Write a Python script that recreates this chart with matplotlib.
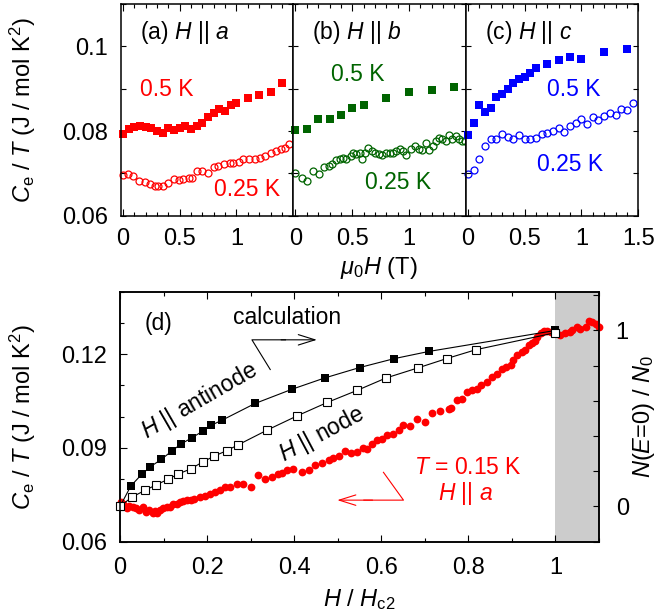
import matplotlib
matplotlib.use("Agg")
import matplotlib.pyplot as plt
from matplotlib.ticker import MultipleLocator

plt.rcParams['font.family'] = 'Liberation Sans'
plt.rcParams['mathtext.fontset'] = 'custom'
plt.rcParams['mathtext.rm'] = 'Liberation Sans'
plt.rcParams['mathtext.it'] = 'Liberation Sans:italic'
plt.rcParams['font.size'] = 17

RED = '#ff0000'
GREEN = '#006400'
BLUE = '#0000ff'
TXT = 16.5

# --- field sweeps, C_e/T in J/mol K^2 vs mu0 H in T ---
# H || a
a_H_05 = [0, 0.05, 0.1, 0.15, 0.2, 0.25, 0.3, 0.35, 0.4, 0.45, 0.5, 0.55, 0.6, 0.65,
          0.7, 0.75, 0.8, 0.85, 0.9, 0.95, 1.0, 1.1, 1.2, 1.3, 1.4]
a_C_05 = [0.0792, 0.0804, 0.0810, 0.0813, 0.0809, 0.0806, 0.0800, 0.0796, 0.0806, 0.0802,
          0.0807, 0.0812, 0.0804, 0.0813, 0.0818, 0.0834, 0.0842, 0.0851, 0.0848, 0.0861,
          0.0865, 0.0877, 0.0885, 0.0891, 0.0914]
a_H_025 = [0, 0.04, 0.09, 0.14, 0.19, 0.24, 0.28, 0.31, 0.35, 0.40, 0.45, 0.49, 0.53, 0.58,
           0.61, 0.65, 0.70, 0.75, 0.80, 0.84, 0.89, 0.94, 0.97, 1.02, 1.06, 1.11, 1.16,
           1.21, 1.25, 1.30, 1.35, 1.39, 1.43, 1.46]
a_C_025 = [0.0695, 0.0698, 0.0694, 0.0682, 0.0680, 0.0674, 0.0670, 0.0669, 0.0670, 0.0678,
           0.0686, 0.0684, 0.0686, 0.0688, 0.0690, 0.0706, 0.0706, 0.0700, 0.0714, 0.0717,
           0.0721, 0.0724, 0.0725, 0.0728, 0.0733, 0.0733, 0.0735, 0.0737, 0.0741, 0.0747,
           0.0753, 0.0757, 0.0761, 0.0769]

# H || b
b_H_05 = [0, 0.1, 0.2, 0.3, 0.4, 0.5, 0.6, 0.8, 1.0, 1.2, 1.4]
b_C_05 = [0.0802, 0.0804, 0.0828, 0.0828, 0.0839, 0.0855, 0.0862, 0.0877, 0.0893, 0.0898, 0.0905]
b_H_025 = [0, 0.055, 0.106, 0.156, 0.209, 0.253, 0.297, 0.326, 0.355, 0.39, 0.42, 0.449,
           0.487, 0.508, 0.537, 0.566, 0.59, 0.614, 0.643, 0.672, 0.702, 0.737, 0.766,
           0.795, 0.83, 0.86, 0.889, 0.918, 0.948, 0.977, 1.015, 1.054, 1.089, 1.118,
           1.147, 1.177, 1.212, 1.235, 1.265, 1.294, 1.323, 1.353, 1.382, 1.411, 1.441,
           1.47, 1.494]
b_C_025 = [0.0700, 0.0690, 0.0682, 0.0706, 0.0698, 0.0714, 0.0717, 0.0723, 0.0731, 0.0735,
           0.0737, 0.0735, 0.0740, 0.0747, 0.0745, 0.0747, 0.0735, 0.0749, 0.0761, 0.0753,
           0.0747, 0.0745, 0.0744, 0.0747, 0.0747, 0.0747, 0.0753, 0.0757, 0.0753, 0.0743,
           0.0758, 0.0765, 0.0757, 0.0755, 0.0771, 0.0755, 0.0765, 0.0776, 0.0784, 0.0780,
           0.0776, 0.0790, 0.0782, 0.0788, 0.0780, 0.0776, 0.0776]

# H || c
c_H_05 = [0, 0.05, 0.1, 0.15, 0.2, 0.25, 0.3, 0.35, 0.4, 0.45, 0.5, 0.55, 0.6, 0.7, 0.8,
          0.9, 1.0, 1.2, 1.4]
c_C_05 = [0.0790, 0.0818, 0.0861, 0.0846, 0.0855, 0.0881, 0.0888, 0.0900, 0.0914, 0.0924,
          0.0928, 0.0938, 0.0950, 0.0959, 0.0968, 0.0976, 0.0971, 0.0987, 0.0993]
c_H_025 = [0, 0.05, 0.1, 0.15, 0.2, 0.25, 0.3, 0.35, 0.4, 0.45, 0.5, 0.55, 0.6, 0.65, 0.7,
           0.75, 0.8, 0.85, 0.9, 0.95, 1.0, 1.05, 1.1, 1.15, 1.2, 1.25, 1.3, 1.35, 1.4, 1.45]
c_C_025 = [0.0698, 0.0708, 0.0733, 0.0765, 0.0780, 0.0782, 0.0792, 0.0787, 0.0780, 0.0790,
           0.0780, 0.0782, 0.0784, 0.0792, 0.0796, 0.0800, 0.0808, 0.0798, 0.0812, 0.0820,
           0.0829, 0.0816, 0.0832, 0.0826, 0.0835, 0.0843, 0.0839, 0.0851, 0.0850, 0.0865]

# --- (d): normalised field, T = 0.15 K, H || a ---
h_exp = [0.0015, 0.0077, 0.0153, 0.0215, 0.029, 0.0368, 0.0444, 0.052, 0.0598, 0.0674,
         0.075, 0.080, 0.086, 0.092, 0.0996, 0.107, 0.115, 0.1226, 0.130, 0.138,
         0.1456, 0.155, 0.162, 0.170, 0.184, 0.195, 0.207, 0.218, 0.23, 0.241,
         0.253, 0.268, 0.283, 0.301, 0.318, 0.333, 0.349, 0.362, 0.372, 0.383,
         0.397, 0.418, 0.434, 0.448, 0.464, 0.479, 0.490, 0.502, 0.517, 0.530,
         0.544, 0.558, 0.567, 0.579, 0.590, 0.602, 0.613, 0.627, 0.640, 0.651,
         0.667, 0.683, 0.701, 0.717, 0.734, 0.755, 0.759, 0.774, 0.785, 0.798,
         0.808, 0.820, 0.828, 0.843, 0.854, 0.866, 0.877, 0.887, 0.897, 0.903,
         0.912, 0.923, 0.931, 0.939, 0.946, 0.954, 0.958, 0.966, 0.973, 0.981,
         0.989, 1.0, 1.011, 1.023, 1.033, 1.038, 1.050, 1.057, 1.069, 1.077,
         1.084, 1.092, 1.100]
c_exp = [0.0728, 0.0722, 0.0707, 0.0714, 0.0712, 0.0707, 0.0701, 0.0710, 0.0696, 0.0701,
         0.0691, 0.0699, 0.0693, 0.0703, 0.0707, 0.0712, 0.0712, 0.0722, 0.0722, 0.0728,
         0.0731, 0.0735, 0.0735, 0.0738, 0.0742, 0.0746, 0.0752, 0.0760, 0.0767, 0.0776,
         0.0774, 0.0786, 0.0784, 0.0776, 0.0813, 0.0802, 0.0807, 0.0816, 0.0820, 0.0829,
         0.0834, 0.0823, 0.0831, 0.0845, 0.0852, 0.0861, 0.0869, 0.0873, 0.0890, 0.0884,
         0.0887, 0.0901, 0.0898, 0.0914, 0.0924, 0.0930, 0.0940, 0.0946, 0.0956, 0.0972,
         0.0969, 0.0994, 0.0983, 0.1012, 0.1018, 0.1026, 0.1029, 0.1052, 0.1057, 0.1079,
         0.1084, 0.1089, 0.1100, 0.1110, 0.1126, 0.1137, 0.1153, 0.1158, 0.1164, 0.1182,
         0.1196, 0.1206, 0.1214, 0.1228, 0.1235, 0.1243, 0.1254, 0.1267, 0.1273, 0.1275,
         0.1270, 0.1270, 0.1263, 0.1267, 0.1270, 0.1278, 0.1286, 0.1281, 0.1288, 0.1307,
         0.1302, 0.1297, 0.1288]

# calculated N(E=0)/N0
h_anti = [0, 0.025, 0.05, 0.07, 0.095, 0.12, 0.14, 0.165, 0.19, 0.21, 0.235, 0.31, 0.395,
          0.47, 0.55, 0.63, 0.71, 1.0]
n_anti = [0, 0.117, 0.183, 0.226, 0.268, 0.317, 0.355, 0.39, 0.428, 0.462, 0.491, 0.585,
          0.666, 0.73, 0.789, 0.84, 0.881, 1.0]
h_node = [0, 0.027, 0.057, 0.083, 0.111, 0.134, 0.162, 0.19, 0.217, 0.245, 0.272, 0.338,
          0.407, 0.476, 0.545, 0.611, 0.684, 0.75, 0.818, 1.0]
n_node = [0, 0.053, 0.091, 0.123, 0.155, 0.185, 0.213, 0.253, 0.287, 0.317, 0.351, 0.434,
          0.515, 0.591, 0.66, 0.73, 0.787, 0.84, 0.891, 0.987]

W, Hpx = 658, 616
fig = plt.figure(figsize=(W / 100, Hpx / 100), dpi=100)

ylabel = r'$C_{\rm e}$ / $T$ (J / mol K$^2$)'

# ---------- top row ----------
panels = [
    ('a', RED, a_H_05, a_C_05, a_H_025, a_C_025,
     (0.15, 0.0898), (0.80, 0.0662)),
    ('b', GREEN, b_H_05, b_C_05, b_H_025, b_C_025,
     (0.31, 0.0934), (0.61, 0.0679)),
    ('c', BLUE, c_H_05, c_C_05, c_H_025, c_C_025,
     (0.695, 0.0898), (0.61, 0.0721)),
]
pw = 172.5 / W
for i, (tag, col, h5, c5, h25, c25, pos5, pos25) in enumerate(panels):
    ax = fig.add_axes([120.7 / W + i * pw, 1 - 215.7 / Hpx, pw, 211.7 / Hpx])
    ax.plot(h5, c5, 's', color=col, ms=5.2, mew=0, clip_on=False)
    ax.plot(h25, c25, 'o', mfc='none', mec=col, ms=5, mew=0.9, clip_on=False)
    ax.set_xlim(-0.02, 1.5)
    ax.set_ylim(0.06, 0.11)
    if tag == 'c':
        ax.set_xticks([0, 0.5, 1, 1.5], ['0', '0.5', '1', '1.5'])
    else:
        ax.set_xticks([0, 0.5, 1], ['0', '0.5', '1'])
    ax.xaxis.set_minor_locator(MultipleLocator(0.1))
    ax.set_yticks([0.06, 0.08, 0.1], ['0.06', '0.08', '0.1'])
    ax.yaxis.set_minor_locator(MultipleLocator(0.01))
    ax.tick_params(which='both', direction='in', top=True, right=True, width=0.8)
    ax.tick_params(axis='x', which='major', length=5, pad=9)
    ax.tick_params(axis='x', which='minor', length=2.8)
    ax.tick_params(axis='y', which='both', length=3.8, pad=9)
    if i > 0:
        ax.tick_params(axis='y', labelleft=False)
    else:
        ax.set_ylabel(ylabel)
        ax.yaxis.set_label_coords(-0.479, 0.5)
    for s in ax.spines.values():
        s.set_linewidth(1.1)
    ax.text(pos5[0], pos5[1], '0.5 K', color=col, ha='left', va='center', fontsize=TXT)
    ax.text(pos25[0], pos25[1], '0.25 K', color=col, ha='left', va='center', fontsize=TXT)
    ax.text(0.15, 0.1033, r'(%s) $H$ || $%s$' % (tag, tag), ha='left', va='center',
            fontsize=TXT)

fig.text(379 / W, 1 - 268 / Hpx, r'$\mu_0H$ (T)', ha='center', va='center')

# ---------- bottom panel ----------
ax = fig.add_axes([120 / W, 1 - 541.7 / Hpx, 479 / W, 250 / Hpx])
ax.axvspan(1.0, 1.1, color='#cccccc', lw=0, zorder=0)
ax.plot(h_exp, c_exp, 'o', color=RED, ms=5.6, mew=0, clip_on=False, zorder=3)
ax.set_xlim(0, 1.1)
ax.set_ylim(0.06, 0.14)
ax.set_xticks([0, 0.2, 0.4, 0.6, 0.8, 1.0], ['0', '0.2', '0.4', '0.6', '0.8', '1'])
ax.xaxis.set_minor_locator(MultipleLocator(0.1))
ax.set_yticks([0.06, 0.09, 0.12], ['0.06', '0.09', '0.12'])
ax.yaxis.set_minor_locator(MultipleLocator(0.01))
ax.tick_params(which='both', direction='in', top=True, right=False, width=0.8)
ax.tick_params(which='major', length=5, pad=9)
ax.tick_params(axis='x', which='major', pad=11)
ax.tick_params(which='minor', length=3.2)
ax.set_ylabel(ylabel)
ax.yaxis.set_label_coords(-0.171, 0.5)
ax.set_xlabel(r'$H$ / $H_{\rm c2}$')
ax.xaxis.set_label_coords(0.5, -0.18)
for s in ax.spines.values():
    s.set_linewidth(1.1)

ax2 = ax.twinx()
ax2.plot(h_anti, n_anti, 's-', color='k', ms=5.6, lw=0.8, mew=0, clip_on=False)
ax2.plot(h_node, n_node, 's-', color='k', mfc='white', ms=5.6, lw=0.8, mew=0.8,
         clip_on=False)
ax2.set_ylim(-0.2, 1.22)
ax2.set_yticks([0, 1], ['0', '1'])
ax2.yaxis.set_minor_locator(MultipleLocator(0.2))
ax2.tick_params(which='both', direction='in', length=4, width=0.8, pad=12)
ax2.set_ylabel(r'$N$($E$=0) / $N_0$')
ax2.yaxis.set_label_coords(1.066, 0.5)
for s in ax2.spines.values():
    s.set_linewidth(1.1)

ax.text(0.057, 0.1298, '(d)', ha='left', va='center', fontsize=TXT)
ax.text(0.26, 0.1317, 'calculation', ha='left', va='center', fontsize=TXT)
ax.plot([0.345, 0.303, 0.38], [0.1151, 0.1246, 0.1246], color='k', lw=0.8)
ax.annotate('', xy=(0.452, 0.1246), xytext=(0.37, 0.1246),
            arrowprops=dict(arrowstyle='->,head_length=0.8,head_width=0.25',
                            color='k', lw=0.8, mutation_scale=15,
                            shrinkA=0, shrinkB=0))
ax.text(0.182, 0.1052, r'$H$ || antinode', rotation=30, ha='center', va='center',
        rotation_mode='anchor', fontsize=TXT)
ax.text(0.464, 0.0944, r'$H$ || node', rotation=28, ha='center', va='center',
        rotation_mode='anchor', fontsize=TXT)

ax.text(0.80, 0.0838, r'$T$ = 0.15 K', color=RED, ha='center', va='center', fontsize=TXT)
ax.text(0.793, 0.0755, r'$H$ || $a$', color=RED, ha='center', va='center', fontsize=TXT)
ax.plot([0.605, 0.651, 0.56], [0.0822, 0.0733, 0.0733], color=RED, lw=0.8)
ax.annotate('', xy=(0.499, 0.0733), xytext=(0.58, 0.0733),
            arrowprops=dict(arrowstyle='->,head_length=0.8,head_width=0.25',
                            color=RED, lw=0.8, mutation_scale=15,
                            shrinkA=0, shrinkB=0))

fig.savefig('out.png', dpi=100)
